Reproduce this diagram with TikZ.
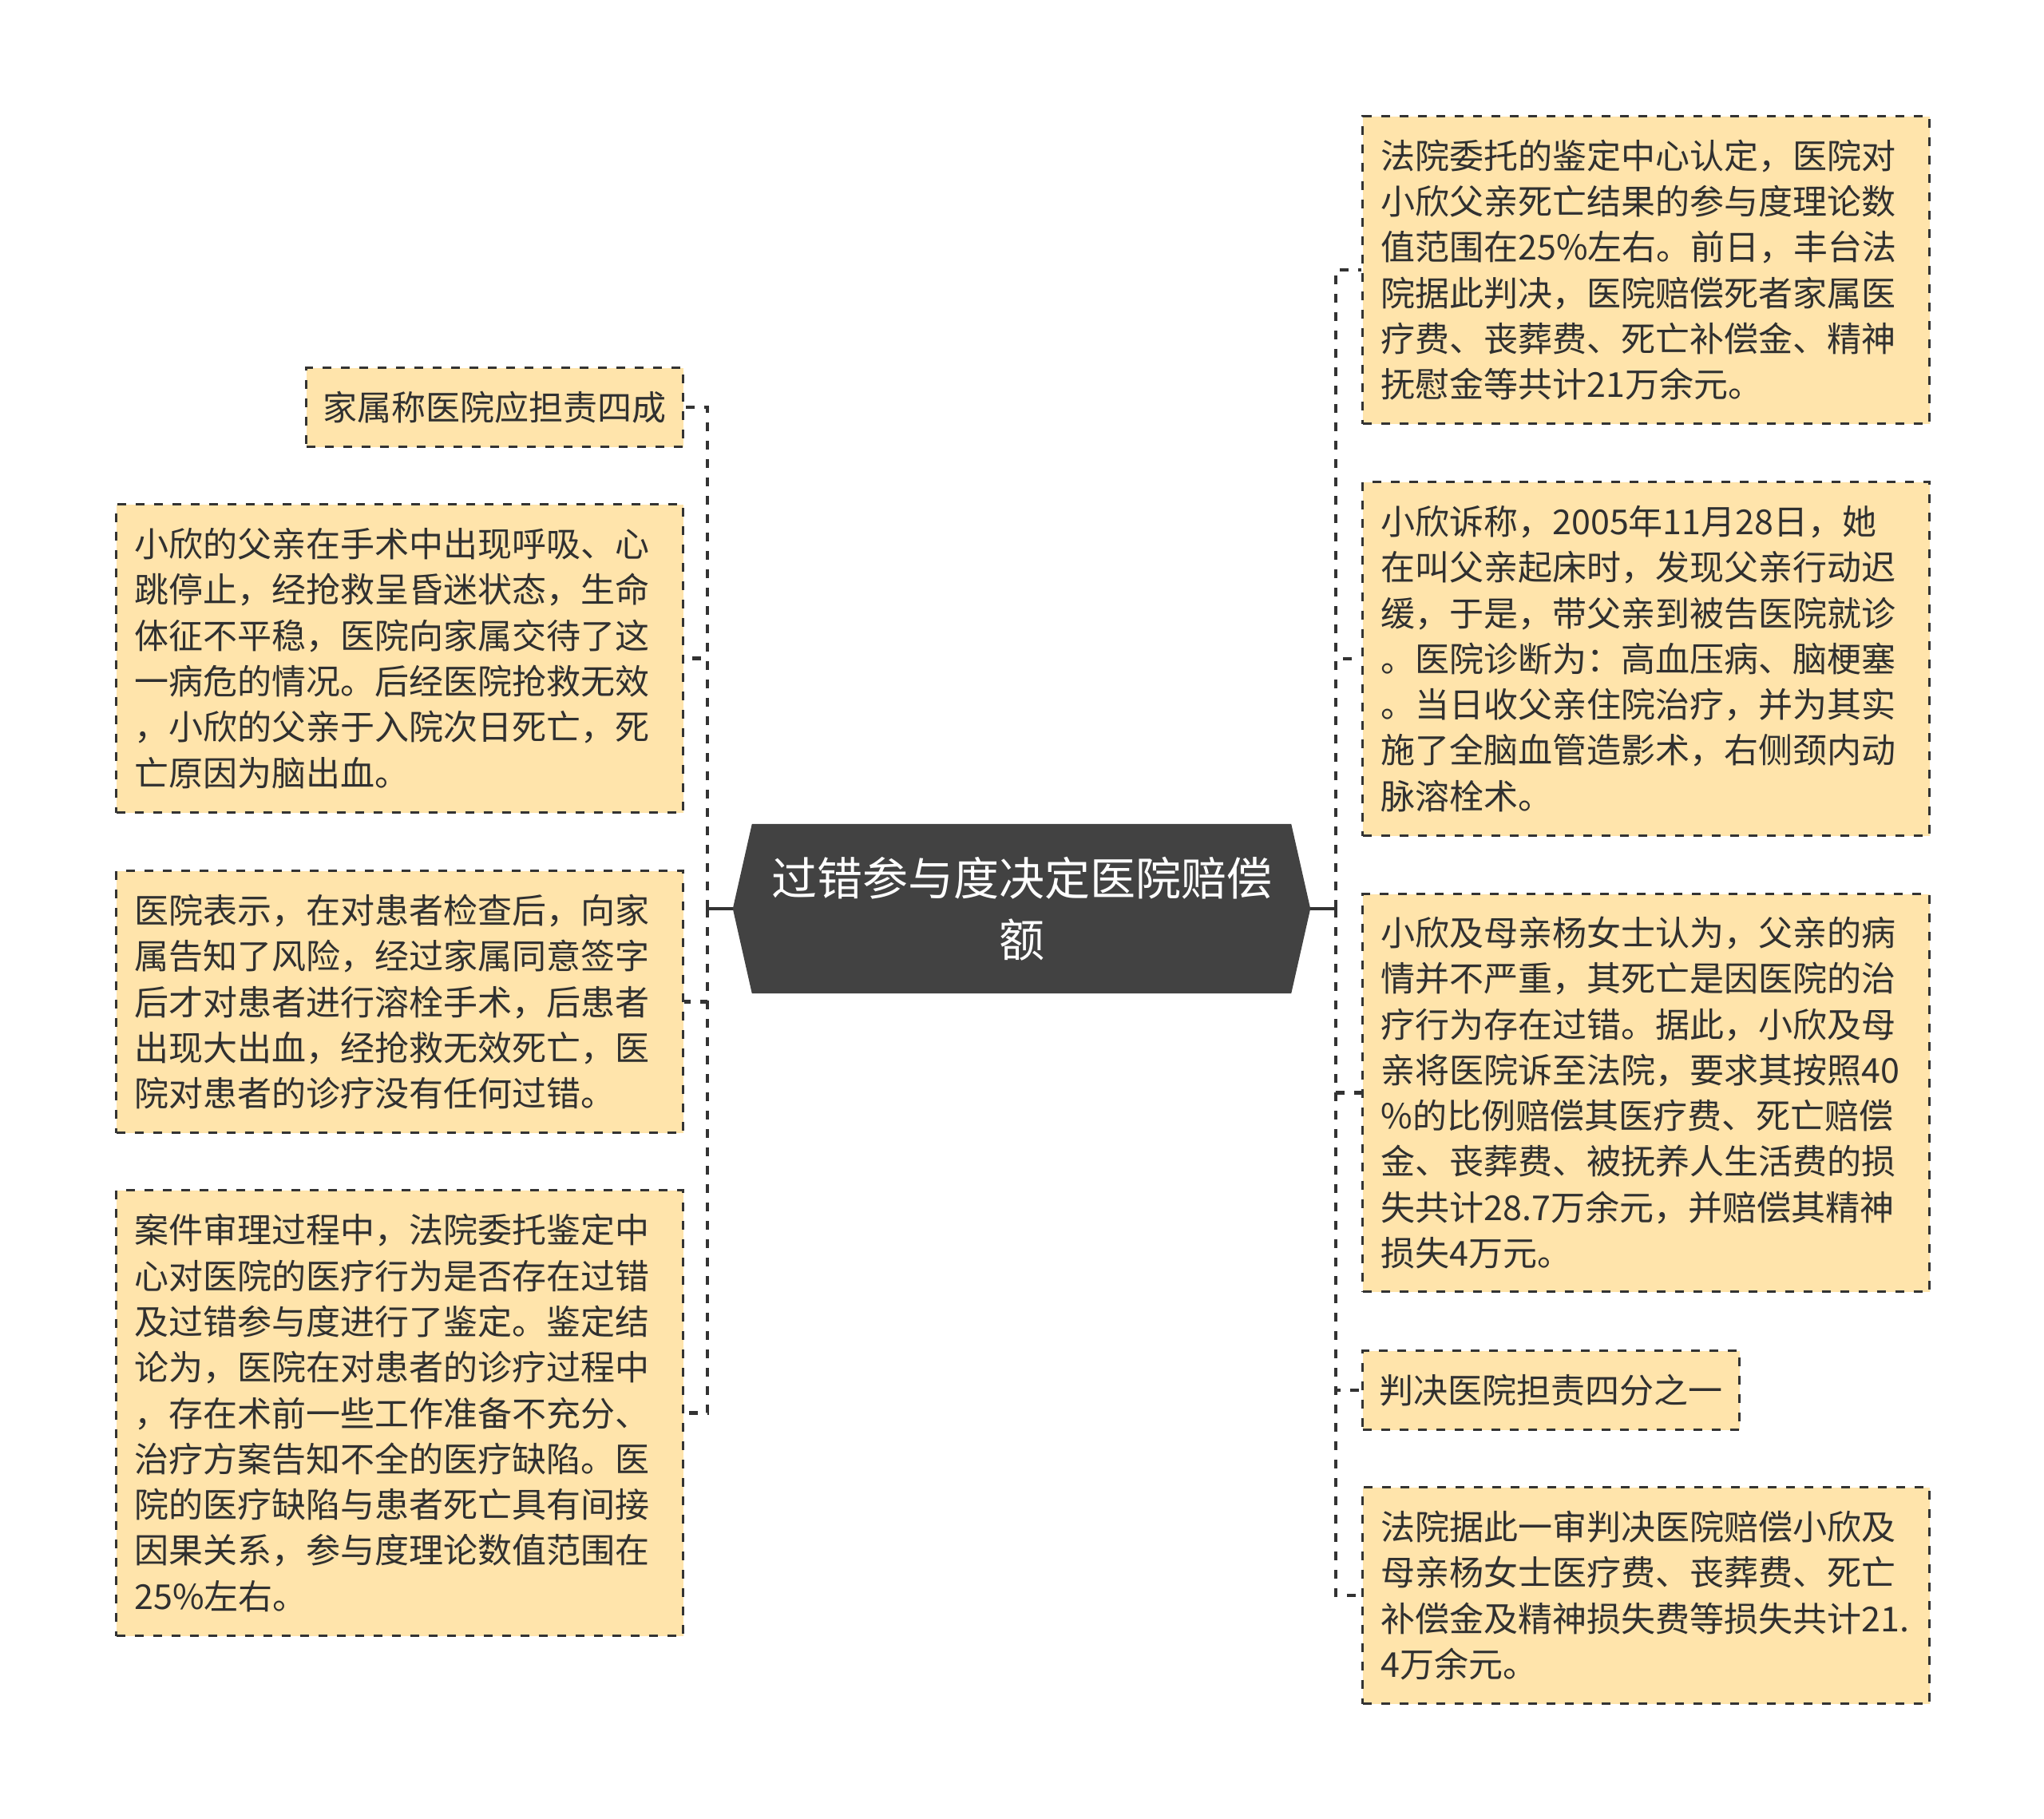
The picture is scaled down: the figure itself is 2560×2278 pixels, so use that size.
\documentclass[tikz,border=0pt]{standalone}
\usepackage{fontspec}
\newfontfamily\cjk{Noto Sans CJK SC}
\usetikzlibrary{backgrounds,calc}
\definecolor{boxfill}{HTML}{FFE4AB}
\definecolor{linec}{HTML}{333333}
\definecolor{textc}{HTML}{303030}
\definecolor{rootfill}{HTML}{424242}
\begin{document}
\begin{tikzpicture}[x=1pt,y=-1pt,
  leaf/.style={draw=linec, fill=boxfill, line width=3pt, dash pattern=on 11pt off 12pt,
    text=textc, font={\cjk\fontsize{43}{57.3}\selectfont}, align=left, inner ysep=0pt, anchor=north west},
  wide/.style={leaf, text width=664pt, inner xsep=23pt},
  narrow/.style={leaf, text width=430pt, inner xsep=21pt},
  conn/.style={draw=linec, line width=4.7pt, dash pattern=on 11pt off 12pt},
  rootconn/.style={draw=linec, line width=3.3pt},
  root/.style={text=white, font={\cjk\fontsize{57}{77}\selectfont}, align=center,
    minimum width=723pt, minimum height=212pt, inner sep=0pt}]
\useasboundingbox (0,0) rectangle (2560,2278);

% root
\node[root] (c) at (1279.5,1138) {过错参与度决定医院赔偿\\额};
\begin{scope}[on background layer]
  \fill[white] (0,0) rectangle (2560,2278);
  \fill[rootfill] ($(c.north west)+(24,0)$) -- ($(c.north east)+(-24,0)$) -- (c.east)
    -- ($(c.south east)+(-24,0)$) -- ($(c.south west)+(24,0)$) -- (c.west) -- cycle;
\end{scope}

% left boxes
\node[narrow, minimum height=99pt] (L1) at (382,459) {家属称医院应担责四成};
\node[wide, minimum height=386pt] (L2) at (144,630) {小欣的父亲在手术中出现呼吸、心\\跳停止，经抢救呈昏迷状态，生命\\体征不平稳，医院向家属交待了这\\一病危的情况。后经医院抢救无效\\，小欣的父亲于入院次日死亡，死\\亡原因为脑出血。};
\node[wide, minimum height=328pt] (L3) at (144,1089) {医院表示，在对患者检查后，向家\\属告知了风险，经过家属同意签字\\后才对患者进行溶栓手术，后患者\\出现大出血，经抢救无效死亡，医\\院对患者的诊疗没有任何过错。};
\node[wide, minimum height=558pt] (L4) at (144,1489) {案件审理过程中，法院委托鉴定中\\心对医院的医疗行为是否存在过错\\及过错参与度进行了鉴定。鉴定结\\论为，医院在对患者的诊疗过程中\\，存在术前一些工作准备不充分、\\治疗方案告知不全的医疗缺陷。医\\院的医疗缺陷与患者死亡具有间接\\因果关系，参与度理论数值范围在\\25\%左右。};

% right boxes
\node[wide, minimum height=385pt] (R1) at (1705,144) {法院委托的鉴定中心认定，医院对\\小欣父亲死亡结果的参与度理论数\\值范围在25\%左右。前日，丰台法\\院据此判决，医院赔偿死者家属医\\疗费、丧葬费、死亡补偿金、精神\\抚慰金等共计21万余元。};
\node[wide, minimum height=443pt] (R2) at (1705,602) {小欣诉称，2005年11月28日，她\\在叫父亲起床时，发现父亲行动迟\\缓，于是，带父亲到被告医院就诊\\。医院诊断为：高血压病、脑梗塞\\。当日收父亲住院治疗，并为其实\\施了全脑血管造影术，右侧颈内动\\脉溶栓术。};
\node[wide, minimum height=498pt] (R3) at (1705,1118) {小欣及母亲杨女士认为，父亲的病\\情并不严重，其死亡是因医院的治\\疗行为存在过错。据此，小欣及母\\亲将医院诉至法院，要求其按照40\\\%的比例赔偿其医疗费、死亡赔偿\\金、丧葬费、被抚养人生活费的损\\失共计28.7万余元，并赔偿其精神\\损失4万元。};
\node[narrow, minimum height=99pt] (R4) at (1705,1690) {判决医院担责四分之一};
\node[wide, minimum height=271pt] (R5) at (1705,1861) {法院据此一审判决医院赔偿小欣及\\母亲杨女士医疗费、丧葬费、死亡\\补偿金及精神损失费等损失共计21.\\4万余元。};

% connectors
\coordinate (lj) at (886,1138);
\coordinate (rj) at (1673,1138);
\draw[rootconn] (c.west) -- (lj);
\draw[conn] (lj) |- (L1.east);
\draw[conn] (lj) |- (L2.east);
\draw[conn] (lj) |- (L3.east);
\draw[conn] (lj) |- (L4.east);
\draw[rootconn] (c.east) -- (rj);
\draw[conn] (rj) |- (R1.west);
\draw[conn] (rj) |- (R2.west);
\draw[conn] (rj) |- (R3.west);
\draw[conn] (rj) |- (R4.west);
\draw[conn] (rj) |- (R5.west);
\end{tikzpicture}
\end{document}
